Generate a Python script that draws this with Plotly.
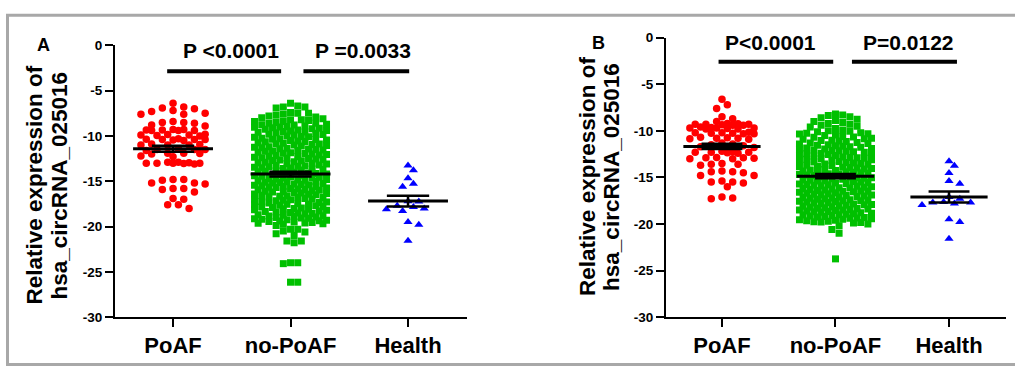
import numpy as np
import plotly.graph_objects as go

# ---------------- data ----------------
categories = ["PoAF", "no-PoAF", "Health"]
y_ticks = [0, -5, -10, -15, -20, -25, -30]
p_labels_a = ["P <0.0001", "P =0.0033"]
p_labels_b = ["P<0.0001", "P=0.0122"]
y_title = ["Relative expression of", "hsa_circRNA_025016"]
panel_letters = ["A", "B"]

a_poaf = [-6.4, -6.8, -7.0, -7.2, -7.3, -6.9, -7.6, -7.6, -7.5, -8.4, -8.5, -8.6, -8.5,
          -8.8, -8.9, -9.3, -9.4, -9.35, -9.4, -9.3, -9.4, -9.35, -9.9, -9.8, -10.0, -9.9,
          -9.85, -9.95, -10.4, -10.3, -10.45, -10.4, -10.35, -10.5, -10.4, -11.0, -10.9,
          -11.0, -10.95, -11.0, -11.5, -11.5, -11.4, -11.6, -11.5, -11.9, -12.0, -11.9,
          -11.95, -12.2, -12.3, -13.0, -12.9, -13.1, -13.0, -13.0, -12.95, -13.05, -13.0,
          -12.9, -14.8, -14.9, -14.8, -15.2, -15.3, -15.2, -15.8, -15.9, -15.8, -16.2,
          -16.9, -17.0, -17.6, -17.6, -18.0]

a_nopoaf = [-6.4, -6.7, -6.8, -6.8, -6.9, -7.4, -7.5, -7.5, -7.6, -7.7, -7.8, -7.9,
            -8.0, -8.1, -8.3, -8.2, -8.4, -8.6, -8.5, -8.8, -8.7, -8.9, -8.2, -8.6, -8.95, -8.4, -8.75,
            -9.0, -9.2, -9.1, -9.35, -9.4, -9.5, -9.65, -9.7, -9.85, -9.9, -9.05, -9.25, -9.45,
            -9.6, -9.8, -9.15, -9.55,
            -10.0, -10.15, -10.1, -10.3, -10.25, -10.45, -10.5, -10.6, -10.75, -10.8, -10.9,
            -10.05, -10.35, -10.55, -10.65, -10.85, -10.95, -10.4,
            -11.05, -11.1, -11.2, -11.3, -11.35, -11.45, -11.5, -11.6, -11.7, -11.8, -11.9,
            -11.0, -11.25, -11.55, -11.65, -11.85, -11.95, -11.4,
            -12.0, -12.1, -12.15, -12.25, -12.3, -12.4, -12.5, -12.55, -12.7, -12.75, -12.85,
            -12.9, -12.05, -12.35, -12.6, -12.65, -12.95, -12.45,
            -13.0, -13.05, -13.2, -13.25, -13.3, -13.4, -13.5, -13.6, -13.65, -13.7, -13.85,
            -13.9, -13.1, -13.35, -13.55, -13.75, -13.95, -13.45,
            -14.0, -14.1, -14.15, -14.2, -14.3, -14.35, -14.4, -14.5, -14.55, -14.6, -14.7,
            -14.8, -14.85, -14.9, -14.05, -14.25, -14.45, -14.65, -14.75, -14.95,
            -15.0, -15.05, -15.15, -15.2, -15.3, -15.4, -15.45, -15.5, -15.6, -15.7, -15.75,
            -15.8, -15.9, -15.95, -15.1, -15.25, -15.35, -15.55, -15.65, -15.85,
            -16.0, -16.1, -16.2, -16.25, -16.3, -16.4, -16.5, -16.55, -16.6, -16.7, -16.8,
            -16.9, -16.05, -16.15, -16.35, -16.45, -16.65, -16.75, -16.95,
            -17.0, -17.1, -17.15, -17.25, -17.3, -17.4, -17.5, -17.6, -17.65, -17.7, -17.8,
            -17.9, -17.05, -17.35, -17.45, -17.55, -17.85, -17.95,
            -18.0, -18.05, -18.1, -18.2, -18.3, -18.4, -18.45, -18.5, -18.6, -18.7, -18.75,
            -18.8, -18.9, -18.15, -18.35, -18.55, -18.85, -18.95,
            -19.0, -19.1, -19.15, -19.2, -19.3, -19.35, -19.4, -19.5, -19.55, -19.6, -19.7,
            -19.75, -19.05, -19.25, -19.45, -19.65,
            -19.9, -20.3, -20.3, -20.5, -20.6, -20.8, -21.0, -21.6, -21.6, -21.8,
            -24.0, -24.0, -24.1, -26.15, -26.15]

a_health = [-13.26, -13.8, -14.67, -15.6, -15.27, -17.25, -17.7, -18.0, -18.3, -18.1,
            -17.85, -19.5, -19.8, -21.56, -17.2]

b_poaf = [-6.6, -7.2, -7.6, -8.5, -8.7, -9.0,
          -9.3, -9.4, -9.2, -9.35, -9.3, -9.25, -9.4, -9.3,
          -9.7, -9.8, -9.6, -9.75, -9.7, -9.65, -9.8, -9.7,
          -10.2, -10.3, -10.25, -10.2, -10.3, -10.15, -10.25,
          -10.8, -10.7, -10.9, -10.8, -10.75, -10.85,
          -11.3, -11.4, -11.5, -11.6, -11.7, -11.8,
          -12.2, -12.3, -12.4, -12.3, -12.25, -12.35, -12.3,
          -12.9, -13.0, -12.95, -12.85, -13.0, -12.9,
          -13.6, -13.7, -13.6, -13.5,
          -14.3, -14.4, -14.5, -14.4,
          -14.8, -14.8,
          -15.5, -15.6, -15.5, -15.4,
          -16.0,
          -17.1, -17.3, -17.2]

b_nopoaf = [-8.2, -8.3, -8.35, -8.5, -8.6, -8.75, -8.9, -9.0, -9.1, -9.2, -9.3, -9.4,
            -9.5, -9.6, -9.75, -9.9,
            -10.0, -10.1, -10.2, -10.3, -10.35, -10.45, -10.5, -10.6, -10.7, -10.8, -10.9,
            -10.05, -10.25, -10.65, -10.85,
            -11.0, -11.1, -11.15, -11.25, -11.3, -11.4, -11.5, -11.6, -11.7, -11.75, -11.85,
            -11.9, -11.05, -11.35, -11.55, -11.65, -11.95,
            -12.0, -12.1, -12.15, -12.2, -12.3, -12.4, -12.5, -12.55, -12.6, -12.7, -12.8,
            -12.9, -12.05, -12.25, -12.45, -12.65, -12.85, -12.95,
            -13.0, -13.1, -13.15, -13.25, -13.3, -13.4, -13.45, -13.5, -13.6, -13.7, -13.75,
            -13.8, -13.9, -13.05, -13.35, -13.55, -13.85, -13.95,
            -14.0, -14.05, -14.1, -14.2, -14.3, -14.35, -14.4, -14.5, -14.6, -14.65, -14.7,
            -14.8, -14.9, -14.15, -14.25, -14.45, -14.55, -14.75, -14.95,
            -15.0, -15.1, -15.15, -15.2, -15.3, -15.4, -15.45, -15.5, -15.6, -15.7, -15.75,
            -15.8, -15.9, -15.05, -15.25, -15.35, -15.55, -15.65, -15.85, -15.95,
            -16.0, -16.05, -16.1, -16.2, -16.25, -16.3, -16.4, -16.5, -16.55, -16.6, -16.7,
            -16.8, -16.85, -16.9, -16.15, -16.35, -16.45, -16.65, -16.75, -16.95, -16.5,
            -17.0, -17.05, -17.1, -17.2, -17.25, -17.3, -17.4, -17.5, -17.55, -17.6, -17.7,
            -17.8, -17.85, -17.9, -17.15, -17.35, -17.45, -17.65, -17.75, -17.95, -17.5,
            -18.0, -18.05, -18.1, -18.2, -18.25, -18.3, -18.4, -18.5, -18.55, -18.6, -18.7,
            -18.8, -18.85, -18.9, -18.15, -18.35, -18.45, -18.65, -18.75, -18.95, -18.5,
            -19.0, -19.05, -19.1, -19.2, -19.3, -19.35, -19.4, -19.5, -19.55, -19.6, -19.7,
            -19.8, -19.9, -19.15, -19.25, -19.45, -19.65, -19.75, -19.85,
            -20.0, -20.2, -20.6, -21.0, -23.75]

b_health = [-13.26, -13.75, -14.54, -15.67, -15.4, -17.63, -17.7, -17.97, -17.8, -17.7,
            -17.29, -19.5, -19.8, -21.6, -17.1]

# ---------------- layout helpers ----------------
W, H = 1015, 375
FONT = "Liberation Sans, Arial, Helvetica, sans-serif"
RED, GREEN, BLUE = "#ff0000", "#00c000", "#0000ff"


def swarm(vals, ppx, ppy, d, step, halfw):
    """Beeswarm x-offsets (data units) on a lattice, in pixel space."""
    v = np.asarray(vals, float)
    order = np.argsort(-v, kind="stable")
    K = int(halfw // step)
    ks = np.arange(-K, K + 1)
    ks = ks[np.argsort(np.abs(ks) + (ks < 0) * 0.1, kind="stable")]
    slots = ks * step
    PX, PY = [], []
    off = np.zeros(len(v))
    for i in order:
        y = -v[i] * ppy
        if PX:
            ax = np.array(PX)
            ay = np.array(PY)
            near = np.abs(ay - y) < d
            best, bestd, bestsx = None, -1.0, 0.0
            for sx in slots:
                if near.any():
                    dist = np.min(np.hypot(ax[near] - sx, ay[near] - y))
                else:
                    dist = np.inf
                if dist >= d * 0.97:
                    best = sx
                    break
                if dist > bestd:
                    bestd, bestsx = dist, sx
            if best is None:
                best = bestsx
        else:
            best = 0.0
        PX.append(best)
        PY.append(y)
        off[i] = best / ppx
    return off


panels = [
    dict(groups=[a_poaf, a_nopoaf, a_health], xa="x", ya="y",
         xdom=(115 / W, 467 / W), ydom=(1 - 323 / H, 1 - 40 / H),
         ppx=117.5, ppy=283 / 30.0),
    dict(groups=[b_poaf, b_nopoaf, b_health], xa="x2", ya="y2",
         xdom=(666 / W, 1006 / W), ydom=(1 - 323 / H, 1 - 32 / H),
         ppx=113.5, ppy=291 / 30.0),
]

styles = [
    dict(color=RED, symbol="circle", size=7.5, d=7.4, step=5.35, halfw=33),
    dict(color=GREEN, symbol="square", size=7, d=7.0, step=3.6, halfw=37),
    dict(color=BLUE, symbol="triangle-up", size=8, d=7.4, step=5.4, halfw=32),
]

fig = go.Figure()

for p in panels:
    for gi, vals in enumerate(p["groups"]):
        st = styles[gi]
        off = swarm(vals, p["ppx"], p["ppy"], st["d"], st["step"], st["halfw"])
        fig.add_trace(go.Scatter(
            x=gi + off, y=vals, mode="markers", xaxis=p["xa"], yaxis=p["ya"],
            marker=dict(color=st["color"], symbol=st["symbol"], size=st["size"],
                        line=dict(width=0)),
            showlegend=False, hoverinfo="y"))
    # mean +- SEM
    for gi, vals in enumerate(p["groups"]):
        v = np.asarray(vals, float)
        m = v.mean()
        sem = v.std(ddof=1) / np.sqrt(len(v))
        fig.add_trace(go.Scatter(
            x=[gi - 0.34, gi + 0.34], y=[m, m], mode="lines",
            xaxis=p["xa"], yaxis=p["ya"], line=dict(color="black", width=3),
            showlegend=False, hoverinfo="skip"))
        fig.add_trace(go.Scatter(
            x=[gi - 0.18, gi + 0.18, None, gi - 0.18, gi + 0.18, None, gi, gi],
            y=[m + sem, m + sem, None, m - sem, m - sem, None, m - sem, m + sem],
            mode="lines", xaxis=p["xa"], yaxis=p["ya"],
            line=dict(color="black", width=2.5),
            showlegend=False, hoverinfo="skip"))

axis_common = dict(showgrid=False, zeroline=False, showline=True, linecolor="black",
                   linewidth=2, ticks="outside", ticklen=8, tickwidth=2, tickcolor="black")

cat_text = ["<b>%s</b>" % c for c in categories]
ytick_text = ["<b>%d</b>" % t for t in y_ticks]

fig.update_layout(
    width=W, height=H, autosize=False, margin=dict(l=0, r=0, t=0, b=0, pad=0),
    paper_bgcolor="white", plot_bgcolor="white",
    font=dict(family=FONT, color="black"),
    xaxis=dict(domain=list(panels[0]["xdom"]), range=[-0.494, 2.502], tickvals=[0, 1, 2],
               ticktext=cat_text, tickfont=dict(size=22), anchor="y",
               **axis_common),
    yaxis=dict(domain=list(panels[0]["ydom"]), range=[-30, 0], tickvals=y_ticks,
               ticktext=ytick_text, tickfont=dict(size=13.5), anchor="x", **axis_common),
    xaxis2=dict(domain=list(panels[1]["xdom"]), range=[-0.493, 2.502], tickvals=[0, 1, 2],
                ticktext=cat_text, tickfont=dict(size=22), anchor="y2",
                **axis_common),
    yaxis2=dict(domain=list(panels[1]["ydom"]), range=[-30, 0], tickvals=y_ticks,
                ticktext=ytick_text, tickfont=dict(size=13.5), anchor="x2", **axis_common),
)

# significance bars
sig = [("x", "y", -2.85, [(-0.05, 0.92), (1.11, 2.01)]),
       ("x2", "y2", -2.58, [(-0.03, 0.98), (1.145, 2.07)])]
for xa, ya, yv, segs in sig:
    for x0, x1 in segs:
        fig.add_shape(type="line", xref=xa, yref=ya, x0=x0, x1=x1, y0=yv, y1=yv,
                      line=dict(color="black", width=4))


def ann(text, px, py, size, angle=0):
    fig.add_annotation(text="<b>%s</b>" % text, x=px / W, y=1 - py / H,
                       xref="paper", yref="paper",
                       showarrow=False, xanchor="center", yanchor="middle",
                       textangle=angle, font=dict(size=size, family=FONT, color="black"))


ann(p_labels_a[0], 231, 45, 21)
ann(p_labels_a[1], 363, 45, 21)
ann(p_labels_b[0], 770, 37, 21)
ann(p_labels_b[1], 908, 37, 21)
ann(panel_letters[0], 43, 40, 18)
ann(panel_letters[1], 598, 38, 18)
ann(y_title[0], 35, 186, 22.5, -90)
ann(y_title[1], 60, 186, 22.5, -90)
ann(y_title[0], 588, 177, 22.5, -90)
ann(y_title[1], 612, 177, 22.5, -90)

# outer frame
fig.add_shape(type="rect", xref="paper", yref="paper", x0=7.5 / W, x1=1.01,
              y0=1 - 372.5 / H, y1=1 - 8.5 / H, line=dict(color="#a8a8a8", width=3),
              fillcolor="rgba(0,0,0,0)", layer="below")

# remove the default 8px body margin before the plot is drawn
margin_fix = "data:text/javascript,document.body.style.margin='0';//.js"

fig.write_html("out.html", config={"displayModeBar": False, "responsive": False},
               include_mathjax=margin_fix)
